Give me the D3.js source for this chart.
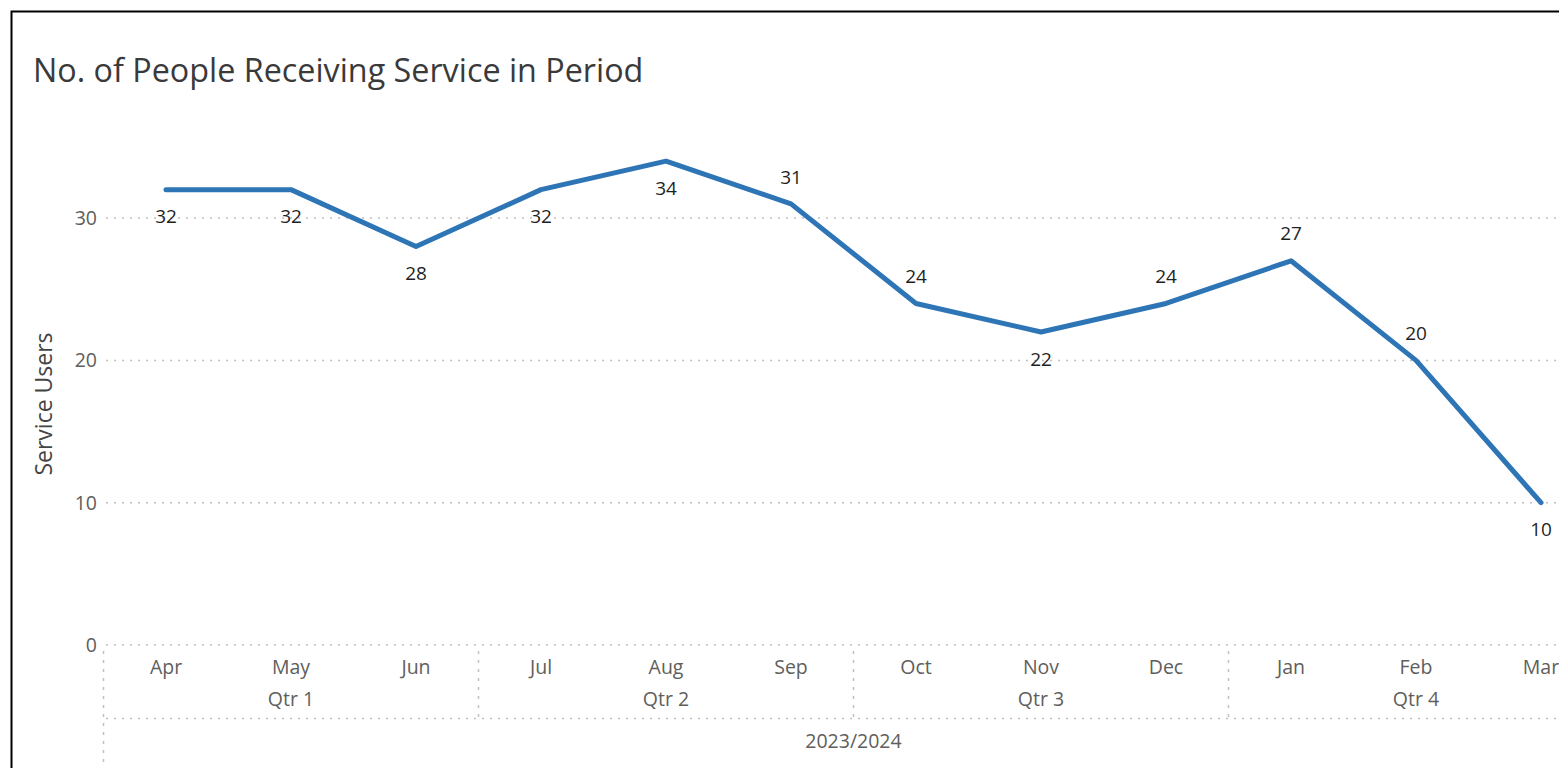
<!DOCTYPE html>
<html>
<head>
<meta charset="utf-8">
<script src="https://cdn.jsdelivr.net/npm/d3@7"></script>
<style>
  body { margin: 0; background: #fff; overflow: hidden; }
  svg { display: block; }
</style>
</head>
<body>
<div id="chart"></div>
<script>
// data
const months = ["Apr", "May", "Jun", "Jul", "Aug", "Sep", "Oct", "Nov", "Dec", "Jan", "Feb", "Mar"];
const quarters = ["Qtr 1", "Qtr 2", "Qtr 3", "Qtr 4"];
const yearLabel = "2023/2024";
const serviceUsers = [32, 32, 28, 32, 34, 31, 24, 22, 24, 27, 20, 10];
// label placement as shown: 1 = above the point, 0 = below
const labelAbove = [0, 0, 0, 0, 0, 1, 1, 0, 1, 1, 1, 0];
const yTicks = [0, 10, 20, 30];

const width = 1559, height = 768;
const font = "'Segoe UI', 'Open Sans', 'Noto Sans', sans-serif";

const svg = d3.select("#chart").append("svg")
    .attr("width", width)
    .attr("height", height)
    .attr("font-family", font);

// card border
svg.append("rect")
    .attr("x", 11.5).attr("y", 11.5)
    .attr("width", width).attr("height", height)
    .attr("fill", "none")
    .attr("stroke", "#000")
    .attr("stroke-width", 2);

svg.append("text")
    .attr("x", 33).attr("y", 82)
    .attr("fill", "#3a3a3a")
    .attr("font-size", 32.3)
    .text("No. of People Receiving Service in Period");

// scales
const x = d3.scaleBand().domain(months).range([103.5, 103.5 + 125 * months.length]);
const y = d3.scaleLinear().domain([0, 10]).range([645, 502.7]);

const gridColor = "#c0c0c0";
const axisColor = "#605e5c";
const axisSize = 19.5;

// horizontal gridlines
svg.append("g").selectAll("line.grid")
  .data(yTicks).join("line")
    .attr("class", "grid")
    .attr("x1", 106).attr("x2", width)
    .attr("y1", d => y(d)).attr("y2", d => y(d))
    .attr("stroke", gridColor)
    .attr("stroke-width", 1.5)
    .attr("stroke-dasharray", "2,6");

// y tick labels
svg.append("g").selectAll("text.ytick")
  .data(yTicks).join("text")
    .attr("class", "ytick")
    .attr("x", 97).attr("y", d => y(d))
    .attr("dy", "0.35em")
    .attr("text-anchor", "end")
    .attr("fill", axisColor)
    .attr("font-size", axisSize)
    .text(d => d);

svg.append("text")
    .attr("transform", "translate(44,404) rotate(-90)")
    .attr("dy", "0.35em")
    .attr("text-anchor", "middle")
    .attr("fill", "#444")
    .attr("font-size", 23)
    .text("Service Users");

// hierarchical x axis
const axisG = svg.append("g");
const qRows = 3;
const qStart = i => x(months[i * qRows]);
const qEnd = i => x(months[i * qRows + qRows - 1]) + x.bandwidth();

// left edge and quarter separators
axisG.append("line")
    .attr("x1", 103.5).attr("x2", 103.5)
    .attr("y1", 651).attr("y2", height)
    .attr("stroke", gridColor).attr("stroke-width", 1.5)
    .attr("stroke-dasharray", "3,6");
axisG.selectAll("line.qsep")
  .data(quarters.slice(1)).join("line")
    .attr("class", "qsep")
    .attr("x1", (d, i) => qStart(i + 1)).attr("x2", (d, i) => qStart(i + 1))
    .attr("y1", 651).attr("y2", 719)
    .attr("stroke", gridColor).attr("stroke-width", 1.5)
    .attr("stroke-dasharray", "3,6");
axisG.append("line")
    .attr("x1", 106).attr("x2", width)
    .attr("y1", 718.5).attr("y2", 718.5)
    .attr("stroke", gridColor).attr("stroke-width", 1.5)
    .attr("stroke-dasharray", "2,6");

axisG.selectAll("text.month")
  .data(months).join("text")
    .attr("class", "month")
    .attr("x", d => x(d) + x.bandwidth() / 2)
    .attr("y", 667).attr("dy", "0.35em")
    .attr("text-anchor", "middle")
    .attr("fill", axisColor).attr("font-size", axisSize)
    .text(d => d);

axisG.selectAll("text.qtr")
  .data(quarters).join("text")
    .attr("class", "qtr")
    .attr("x", (d, i) => (qStart(i) + qEnd(i)) / 2)
    .attr("y", 699).attr("dy", "0.35em")
    .attr("text-anchor", "middle")
    .attr("fill", axisColor).attr("font-size", axisSize)
    .text(d => d);

axisG.append("text")
    .attr("x", (x.range()[0] + x.range()[1]) / 2)
    .attr("y", 741).attr("dy", "0.35em")
    .attr("text-anchor", "middle")
    .attr("fill", axisColor).attr("font-size", axisSize)
    .text(yearLabel);

// line
const points = months.map((m, i) => ({ m, v: serviceUsers[i], above: labelAbove[i] }));
const line = d3.line()
    .x(d => x(d.m) + x.bandwidth() / 2)
    .y(d => y(d.v));

svg.append("path")
    .datum(points)
    .attr("d", line)
    .attr("fill", "none")
    .attr("stroke", "#2e75b6")
    .attr("stroke-width", 5)
    .attr("stroke-linejoin", "round")
    .attr("stroke-linecap", "round");

svg.append("g").selectAll("text.label")
  .data(points).join("text")
    .attr("class", "label")
    .attr("x", d => x(d.m) + x.bandwidth() / 2)
    .attr("y", d => y(d.v) + (d.above ? -27 : 27))
    .attr("dy", "0.35em")
    .attr("text-anchor", "middle")
    .attr("fill", "#1f1f1f")
    .attr("font-size", 19)
    .text(d => d.v);
</script>
</body>
</html>
